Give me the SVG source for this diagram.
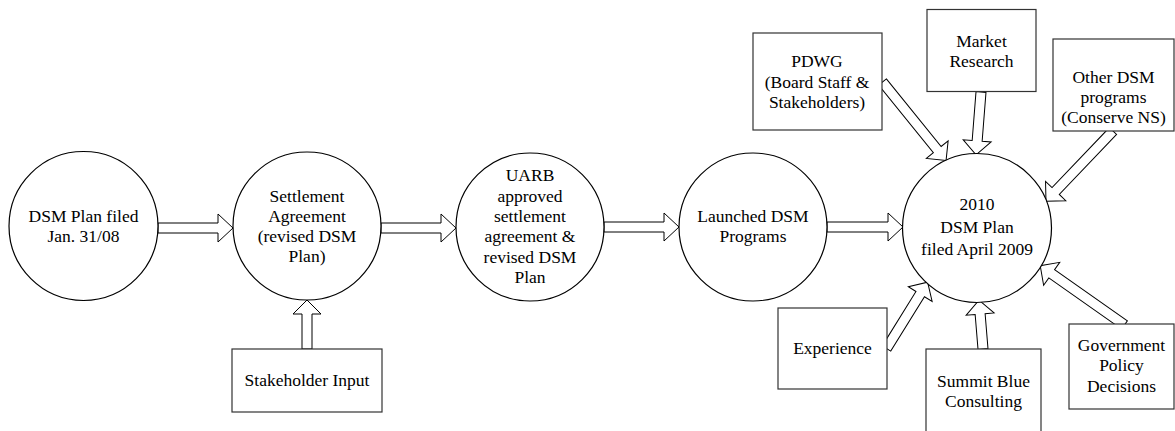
<svg xmlns="http://www.w3.org/2000/svg" width="1175" height="431" viewBox="0 0 1175 431" font-family="'Liberation Serif', 'DejaVu Serif', serif" font-size="17.5">
<style>
.n{fill:#fff;stroke:#000;stroke-width:1.2}
.b{fill:#fff;stroke:#333;stroke-width:1.2}
.a{fill:#fff;stroke:#000;stroke-width:1}
text{font-family:'Liberation Serif','DejaVu Serif',serif;font-size:17.5px;fill:#000;text-anchor:middle}
</style>
<rect width="1175" height="431" fill="#fff"/>
<g id="connectors">
<path class="a" transform="translate(158,228)" d="M0,-5 H60 V-14 L75,0 L60,14 V5 H0 Z"/>
<path class="a" transform="translate(381,228)" d="M0,-5 H60 V-14 L75,0 L60,14 V5 H0 Z"/>
<path class="a" transform="translate(604,227)" d="M0,-5 H60 V-14 L75,0 L60,14 V5 H0 Z"/>
<path class="a" transform="translate(827,227)" d="M0,-5 H61 V-14 L76,0 L61,14 V5 H0 Z"/>
<path class="a" transform="translate(307,349) rotate(-90)" d="M0,-5 H35 V-14 L49,0 L35,14 V5 H0 Z"/>
<path class="a" transform="translate(882.5,82) rotate(51)" d="M0,-5 H87 V-14 L101,0 L87,14 V5 H0 Z"/>
<path class="a" transform="translate(981,92) rotate(94.5)" d="M0,-5 H49 V-14 L63,0 L49,14 V5 H0 Z"/>
<path class="a" transform="translate(1113,131) rotate(133.7)" d="M0,-5 H83 V-14 L97,0 L83,14 V5 H0 Z"/>
<path class="a" transform="translate(886.5,348.5) rotate(-58.2)" d="M0,-5 H64 V-14 L78,0 L64,14 V5 H0 Z"/>
<path class="a" transform="translate(983,349) rotate(-94.7)" d="M0,-5 H35 V-14 L49,0 L35,14 V5 H0 Z"/>
<path class="a" transform="translate(1124.5,325) rotate(-144.9)" d="M0,-5 H89 V-14 L103,0 L89,14 V5 H0 Z"/>
</g>
<g id="dsm-plan-filed">
<circle class="n" cx="83.5" cy="226" r="74.5"/>
<text x="83.5" y="222">DSM Plan filed</text>
<text x="83.5" y="242">Jan. 31/08</text>
</g>
<g id="settlement-agreement">
<circle class="n" cx="307" cy="226" r="74"/>
<text x="307" y="201.5">Settlement</text>
<text x="307" y="221.5">Agreement</text>
<text x="307" y="242">(revised DSM</text>
<text x="307" y="262">Plan)</text>
</g>
<g id="uarb-approved">
<circle class="n" cx="530" cy="227" r="74"/>
<text x="530" y="181">UARB</text>
<text x="530" y="201.5">approved</text>
<text x="530" y="221.5">settlement</text>
<text x="530" y="242">agreement &amp;</text>
<text x="530" y="262.5">revised DSM</text>
<text x="530" y="283">Plan</text>
</g>
<g id="launched-dsm">
<circle class="n" cx="753" cy="227" r="74"/>
<text x="753" y="222">Launched DSM</text>
<text x="753" y="242">Programs</text>
</g>
<g id="dsm-plan-2010">
<circle class="n" cx="977" cy="228" r="74.5"/>
<text x="977" y="210">2010</text>
<text x="977" y="233">DSM Plan</text>
<text x="977" y="255">filed April 2009</text>
</g>
<g id="stakeholder-input">
<rect class="b" x="232" y="349" width="150" height="63"/>
<text x="307" y="386">Stakeholder Input</text>
</g>
<g id="pdwg">
<rect class="b" x="753" y="33" width="129" height="97"/>
<text x="817" y="67">PDWG</text>
<text x="817" y="87.5">(Board Staff &amp;</text>
<text x="817" y="107.5">Stakeholders)</text>
</g>
<g id="market-research">
<rect class="b" x="927" y="9.5" width="109" height="82"/>
<text x="981.5" y="47">Market</text>
<text x="981.5" y="67">Research</text>
</g>
<g id="other-dsm">
<rect class="b" x="1053" y="39" width="121" height="92"/>
<text x="1113.5" y="83">Other DSM</text>
<text x="1113.5" y="103">programs</text>
<text x="1113.5" y="123">(Conserve NS)</text>
</g>
<g id="experience">
<rect class="b" x="778" y="308" width="109" height="81"/>
<text x="832.5" y="354">Experience</text>
</g>
<g id="summit-blue">
<rect class="b" x="926" y="349" width="115" height="90"/>
<text x="983.5" y="387">Summit Blue</text>
<text x="983.5" y="407">Consulting</text>
</g>
<g id="government">
<rect class="b" x="1069" y="324" width="105" height="85"/>
<text x="1121.5" y="351">Government</text>
<text x="1121.5" y="371">Policy</text>
<text x="1121.5" y="391.5">Decisions</text>
</g>
</svg>
